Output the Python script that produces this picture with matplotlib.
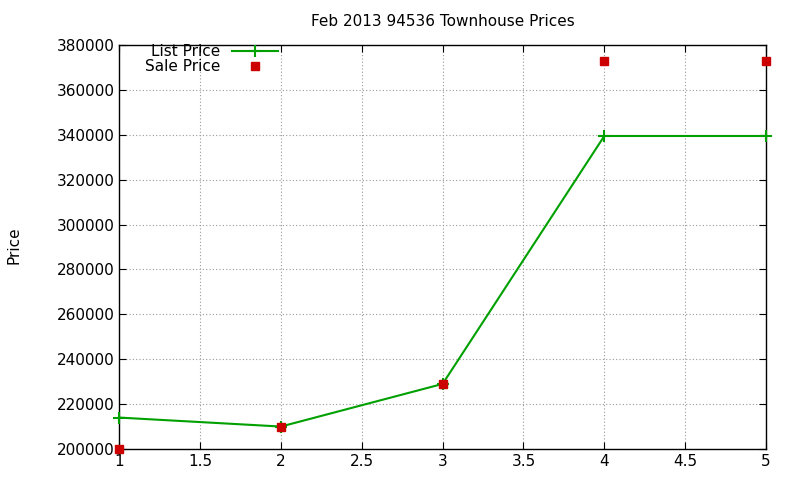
import matplotlib
matplotlib.use("Agg")
import matplotlib.pyplot as plt

# values
x = [1, 2, 3, 4, 5]
list_price = [214000, 210000, 229000, 339500, 339500]
sale_price = [200000, 210000, 229000, 373000, 373000]

fig = plt.figure(figsize=(8, 4.8), dpi=100)
ax = fig.add_axes([0.149, 0.0646, 0.8085, 0.8414])

ax.plot(x, list_price, color="#00a000", lw=1.5, marker="+", ms=9, mew=1.5,
        label="List Price", clip_on=False, zorder=3)
ax.plot(x, sale_price, ls="none", marker="s", ms=6, color="#cc0000",
        label="Sale Price", clip_on=False, zorder=4)

ax.set_xlim(1, 5)
ax.set_ylim(200000, 380000)
ax.set_xticks([1, 1.5, 2, 2.5, 3, 3.5, 4, 4.5, 5])
ax.set_xticklabels(["1", "1.5", "2", "2.5", "3", "3.5", "4", "4.5", "5"])
ax.set_yticks(range(200000, 380001, 20000))
ax.tick_params(direction="in", top=True, right=True, labelsize=11, length=5)
ax.grid(True, color="#999999", ls=(0, (1, 2)), lw=0.8)
for s in ax.spines.values():
    s.set_linewidth(1)

ax.set_title("Feb 2013 94536 Townhouse Prices", fontsize=11, pad=14)
fig.text(0.008, 0.49, "Price", rotation=90, fontsize=11, va="center")

ax.legend(loc="upper left", bbox_to_anchor=(0.025, 1.025), frameon=False,
          markerfirst=False, fontsize=11, handlelength=3.0,
          labelspacing=0.0, borderaxespad=0.2)

fig.savefig("out.png", dpi=100)
